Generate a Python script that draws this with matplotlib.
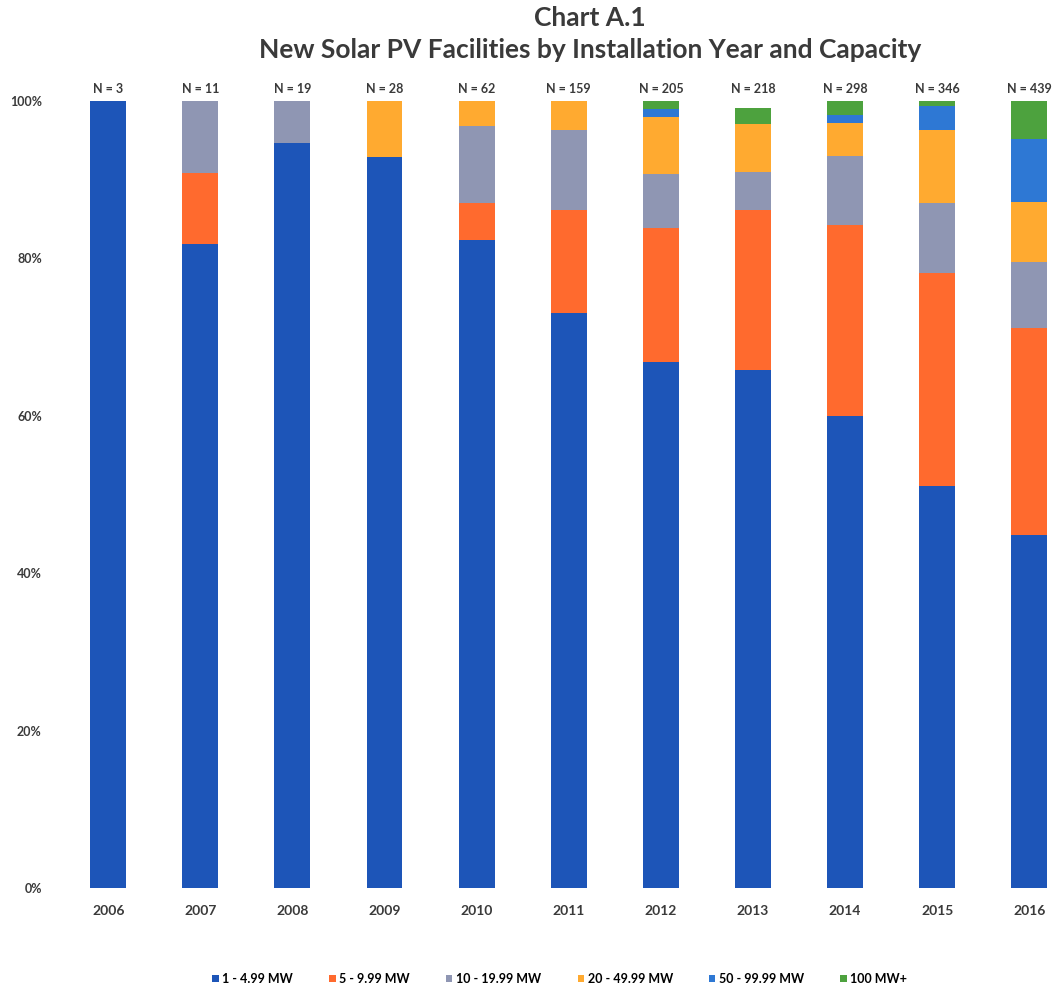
import numpy as np
import matplotlib.pyplot as plt

# Data (percent share of new facilities per year)
years = ['2006', '2007', '2008', '2009', '2010', '2011', '2012', '2013', '2014', '2015', '2016']
n_labels = [3, 11, 19, 28, 62, 159, 205, 218, 298, 346, 439]
cap_1_5 = [100.0, 81.8, 94.7, 92.9, 82.3, 73.0, 66.8, 65.8, 60.0, 51.1, 44.9]
cap_5_10 = [0.0, 9.1, 0.0, 0.0, 4.8, 13.2, 17.1, 20.3, 24.2, 27.0, 26.3]
cap_10_20 = [0.0, 9.1, 5.3, 0.0, 9.7, 10.1, 6.8, 4.9, 8.8, 8.9, 8.3]
cap_20_50 = [0.0, 0.0, 0.0, 7.1, 3.2, 3.8, 7.3, 6.1, 4.2, 9.3, 7.7]
cap_50_100 = [0.0, 0.0, 0.0, 0.0, 0.0, 0.0, 1.0, 0.0, 1.0, 3.1, 8.0]
cap_100 = [0.0, 0.0, 0.0, 0.0, 0.0, 0.0, 1.0, 2.0, 1.8, 0.6, 4.8]

series = [cap_1_5, cap_5_10, cap_10_20, cap_20_50, cap_50_100, cap_100]
names = ['1 - 4.99 MW', '5 - 9.99 MW', '10 - 19.99 MW', '20 - 49.99 MW', '50 - 99.99 MW', '100 MW+']
colors = ['#1D55B8', '#FF6A2E', '#8F96B3', '#FFAA30', '#2E78D4', '#4DA23E']

plt.rcParams['font.family'] = ['Lato', 'DejaVu Sans']
text_col = '#3a3a3a'

fig = plt.figure(figsize=(10.59, 9.9), dpi=100)
ax = fig.add_axes([0.050, 0.103, 0.948, 0.795])

x = np.arange(len(years))
bottom = np.zeros(len(years))
for vals, name, col in zip(series, names, colors):
    v = np.array(vals) / 100
    ax.bar(x, v, width=0.39, bottom=bottom, color=col, label=name)
    bottom += v

# N labels above bars
for xi, n in zip(x, n_labels):
    ax.text(xi, 1.008, f'N = {n}', ha='center', va='bottom', fontsize=9,
            fontweight='bold', color=text_col)

ax.set_xlim(-0.6, 10.3)
ax.set_ylim(0, 1.0)
ax.set_xticks(x)
ax.set_xticklabels(years, fontsize=10, fontweight='bold', color=text_col)
ax.set_yticks(np.arange(0, 1.01, 0.2))
ax.set_yticklabels([f'{int(t * 100)}%' for t in np.arange(0, 1.01, 0.2)],
                   fontsize=9, fontweight='bold', color=text_col)
ax.tick_params(axis='both', length=0)
ax.tick_params(axis='x', pad=12)
ax.tick_params(axis='y', pad=8)
for s in ax.spines.values():
    s.set_visible(False)

fig.text(0.557, 0.982, 'Chart A.1', ha='center', va='center', fontsize=19,
         fontweight='bold', color=text_col)
fig.text(0.557, 0.949, 'New Solar PV Facilities by Installation Year and Capacity',
         ha='center', va='center', fontsize=19, fontweight='bold', color=text_col)

ax.legend(loc='center', bbox_to_anchor=(0.505, -0.115), ncol=6, frameon=False,
          handlelength=0.5, handleheight=0.5, columnspacing=2.9,
          handletextpad=0.3, prop={'weight': 'bold', 'size': 9})

fig.savefig('out.png', dpi=100)
